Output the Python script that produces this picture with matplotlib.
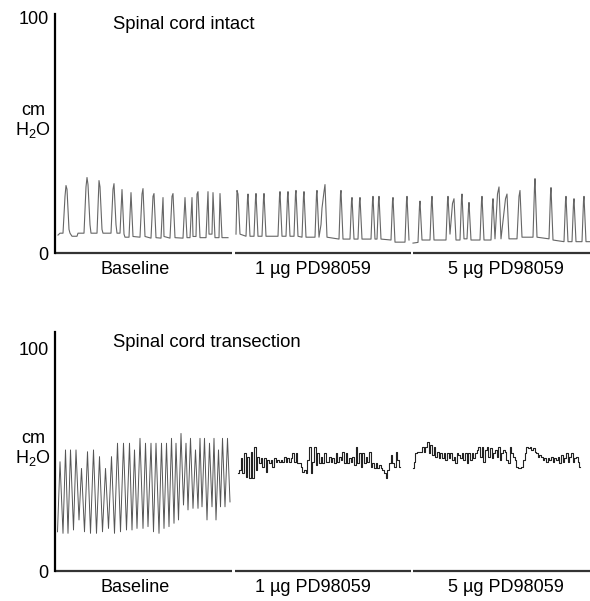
#!/usr/bin/env python3
"""Bladder pressure traces (cm H2O) - spinal cord intact vs transection,
baseline and after 1 / 5 ug PD98059."""
import matplotlib

matplotlib.use("Agg")
import matplotlib.pyplot as plt
import matplotlib.transforms as mtransforms
import numpy as np

plt.rcParams["font.family"] = ["Liberation Sans", "DejaVu Sans"]
plt.rcParams["mathtext.fontset"] = "custom"
plt.rcParams["mathtext.rm"] = "Liberation Sans"

# ---- data (time in arbitrary units from each segment start, pressure in cm H2O)
SEG_LABELS = ["Baseline", "1 µg PD98059", "5 µg PD98059"]

# spinal cord intact
INTACT_BASE_T = [3, 5, 8, 10, 11, 12, 14, 15, 17, 22, 23, 29, 31, 32, 33, 35, 36, 42, 44, 45,
                 47, 48, 56, 58, 59, 61, 62, 65, 67, 69, 70, 74, 76, 78, 85, 87, 88, 90, 96, 98,
                 99, 101, 106, 108, 109, 115, 117, 118, 120, 128, 130, 132, 135, 137, 138, 141, 142, 143, 145, 151,
                 153, 154, 157, 158, 160, 164, 165, 167, 173]
INTACT_BASE_P = [7.6, 8.4, 8.4, 24, 28.6, 27, 10, 8.4, 7.1, 7.1, 8.4, 8.4, 28, 32, 29, 12, 8.4, 8.4, 30.7, 28,
                 10, 8.4, 8.4, 27, 29.4, 12, 8.4, 8.4, 26.9, 8, 6.7, 6.7, 25.6, 7, 6.7, 25, 27.3, 7, 6.3, 24,
                 25.2, 6.5, 6.3, 23.5, 7, 6.3, 24, 25.2, 6.5, 6.3, 23.5, 6.5, 6.5, 23.5, 7, 7, 25, 26, 6.5, 6.5,
                 26, 8, 8, 25.6, 6.5, 6.5, 25.2, 6.5, 6.5]

INTACT_PD1_T = [1, 2, 3, 5, 11, 12.5, 13, 15, 19, 20.5, 21, 23, 27, 28.5, 29, 31, 43, 44.5, 45, 47,
                51, 52.5, 53, 55, 59, 60.5, 61, 63, 67, 68.5, 69, 71, 80, 81.5, 82, 84, 86, 87, 89, 90,
                92, 104, 105.5, 106, 108, 115, 116.5, 117, 119, 123, 124.5, 125, 127, 136, 137.5, 138, 140, 142, 143.5, 144,
                146, 156, 157.5, 158, 160, 170, 171.5, 172, 174]
INTACT_PD1_P = [8, 26.5, 25, 8, 7.1, 23, 25, 7.1, 7.1, 23, 25.2, 7.1, 7.1, 23, 25.2, 7.1, 7.1, 24, 26, 7.1,
                7.1, 24, 26, 7.1, 7.1, 25, 26.5, 7.1, 6.7, 24, 26, 6.7, 6.7, 25, 26.5, 6.7, 12, 19, 26, 29,
                6.7, 5.9, 25, 26.5, 5.9, 5.9, 22, 23.5, 5.9, 5.9, 22, 23.5, 5.9, 5.9, 22, 24, 5.9, 5.9, 22, 24,
                5.9, 5.5, 22, 23.5, 4.6, 4.6, 22, 24, 5.5]

INTACT_PD5_T = [0, 5, 6.5, 7, 9, 17, 18.5, 19, 21, 33, 34.5, 35, 37, 39.5, 41, 43, 47, 48.5, 49, 51,
                54, 55.5, 56, 58, 67, 68.5, 69, 71, 78, 79.5, 80, 82, 84.5, 86, 88, 92.5, 94, 96, 104, 106,
                107, 109, 120, 121.5, 122, 124, 136, 137.5, 138, 140, 151, 152.5, 153, 155, 159, 160.5, 161, 163, 169, 170.5,
                171, 173, 177]
INTACT_PD5_P = [4.2, 4.5, 20, 22, 5.5, 5.5, 22, 24, 5.5, 5.5, 22, 24, 8, 21, 23, 5.5, 5.5, 23, 25, 6,
                6, 19, 21.4, 5.5, 5.5, 22, 24, 5.5, 5.5, 21, 23, 6, 25, 28, 6, 23, 25, 6, 6, 24,
                26.5, 6.7, 6.7, 28, 31.5, 6.7, 6, 25, 27.7, 5.5, 4.8, 22, 24, 4.8, 4.8, 21, 23, 4.8, 4.8, 22,
                24, 4.8, 4.8]

# spinal cord transection
TRANS_BASE_T = [2.5, 5, 8, 10.5, 13, 15.5, 18.5, 21, 24, 26.5, 29.5, 32.5, 35.5, 38.5, 41.5, 44.5, 47.5, 50.5,
                53.5, 56.5, 59.5, 62.5, 65.5, 68.5, 71.5, 74.5, 77, 79.5, 82, 85, 88, 90.5, 93, 96, 98.5,
                101, 104, 106.5, 109, 111.5, 114, 116.5, 119, 121, 123.5, 126, 128.5, 131, 133, 135.5, 138,
                140.5, 143, 145, 147, 149.5, 152, 154.5, 157, 159, 161, 163.5, 165.5, 167.5, 170, 172.5, 175]
TRANS_BASE_P = [17.6, 49, 16.9, 54.3, 16.9, 54.3, 18.4, 54.3, 22.9, 46, 17.6, 53.5, 16.9, 54.3, 16.9, 51.3,
                17.6, 46, 19.1, 51.3, 16.9, 57.3, 17.6, 57.3, 18.4, 57.3, 18.4, 54.3, 19.1, 59.5, 19.1, 57.3,
                19.9, 57.3, 17.6, 57.3, 16.9, 57.3, 19.1, 57.3, 19.9, 59.5, 21.4, 57.3, 22.9, 61.7, 29.6, 57.3,
                27.4, 59.5, 28.1, 54.3, 28.1, 59.5, 28.8, 59.5, 22.9, 57.3, 28.8, 59.5, 22.9, 54.3, 28.8, 59.5,
                28.8, 59.5, 31]

TRANS_PD1_SPAN = (3, 165)
TRANS_PD1_P = [43.8, 45.3, 50.5, 43.8, 52.8, 42.3, 51.3, 41.6, 53.5, 41.6, 55.8, 45.3, 51.3, 48.3, 50.5,
               46.8, 50.5, 44.5, 49.8, 48.3, 49.8, 46.8, 50.5, 49.0, 50, 49.0, 50, 49.0, 51, 49.0,
               50.5, 49.0, 50.5, 52.8, 49.0, 52.8, 48.3, 48.3, 46.8, 44.5, 45.3, 43.8, 49.8, 55.8, 43.8,
               49.0, 55.8, 47.5, 52.8, 48.3, 51.3, 48.3, 52.8, 49.0, 49.0, 51.3, 49.0, 50.5, 48.3, 52.8,
               49.0, 51.3, 49.8, 53.5, 48.3, 52.8, 48.3, 50.5, 49.0, 51.3, 47.5, 55.8, 48.3, 52.8, 46.8,
               52.8, 48.3, 51.3, 49.0, 53.5, 46.8, 48.3, 46.0, 48.3, 46.0, 47.5, 46.0, 45.3, 43.8, 41.6,
               45.3, 48.3, 52.0, 48.3, 46.8, 53.5, 49.8, 46.8]

TRANS_PD5_SPAN = (0, 167)
TRANS_PD5_P = [46.0, 49.0, 52.8, 53.5, 53.5, 53.5, 55.8, 53.5, 55.8, 58.0, 52.8, 56.5, 52.0, 55.8, 51.3,
               53.5, 50.5, 52.8, 50.5, 52.8, 49.8, 52.8, 50.5, 52.8, 49.8, 51.3, 48.3, 52.8, 52.0, 50.5,
               52.8, 49.8, 52.8, 48.3, 52.8, 49.8, 52.8, 50.5, 52.8, 54.3, 55.8, 51.3, 55.8, 49.0, 54.3,
               55.8, 51.3, 55.0, 50.5, 52.8, 54.3, 51.3, 55.8, 49.8, 52.8, 54.3, 53.5, 49.8, 48.3, 55.8,
               52.8, 51.3, 49.8, 46.8, 46.0, 46.0, 46.8, 49.8, 52.8, 55.8, 55.0, 55.8, 54.3, 55.0, 53.5,
               52.8, 51.3, 52.0, 51.3, 49.8, 50.5, 49.0, 50.5, 49.8, 51.3, 49.0, 50.5, 49.8, 51.3, 48.3,
               52.0, 49.0, 50.5, 52.8, 49.0, 51.3, 52.8, 49.0, 50.5, 51.3, 49.0, 46.8]

# ---- layout
SEG_START = [0, 180, 358]
SEG_END = [177, 356, 535]
LABEL_X = [80, 258, 451]
FONT = 13

fig = plt.figure(figsize=(5.90, 6.01), dpi=100)
ax_top = fig.add_axes([55 / 590, 1 - 253 / 601, 535 / 590, 239 / 601])
ax_bot = fig.add_axes([55 / 590, 1 - 571 / 601, 535 / 590, 239 / 601])


def setup_panel(ax, ytop, title, title_y, cm_y, h2o_y):
    ax.set_xlim(0, 535)
    ax.set_ylim(0, ytop)
    for side in ("top", "right", "bottom"):
        ax.spines[side].set_visible(False)
    ax.spines["left"].set_linewidth(1.6)
    ax.set_xticks([])
    ax.set_yticks([0, 100])
    ax.set_yticklabels(["0", "100"])
    ax.tick_params(axis="y", length=0, pad=4.5, labelsize=FONT)
    # broken time axis, one piece per condition
    for x0, x1, lab, lx in zip(SEG_START, SEG_END, SEG_LABELS, LABEL_X):
        ax.plot([x0, x1], [0, 0], color="#333333", lw=1.6, clip_on=False,
                solid_capstyle="butt")
        ax.annotate(lab, xy=(lx, 0), xytext=(0, -16), textcoords="offset pixels",
                    ha="center", va="center", fontsize=FONT)
    ax.text(58, title_y, title, ha="left", va="center", fontsize=13.3)
    trans = mtransforms.blended_transform_factory(ax.transAxes, ax.transData)
    ax.text(-0.041, cm_y, "cm", transform=trans, ha="center", va="center", fontsize=FONT)
    ax.text(-0.041, h2o_y, r"H$_2$O", transform=trans, ha="center", va="center", fontsize=FONT)


setup_panel(ax_top, 101.3, "Spinal cord intact", 97, 60.6, 52.3)
setup_panel(ax_bot, 107.2, "Spinal cord transection", 102.7, 59.6, 50.9)

# intact: smooth voiding contractions
for start, t, p in zip(SEG_START,
                       [INTACT_BASE_T, INTACT_PD1_T, INTACT_PD5_T],
                       [INTACT_BASE_P, INTACT_PD1_P, INTACT_PD5_P]):
    ax_top.plot(np.asarray(t) + start, p, color="#666666", lw=0.8)

# transection: baseline oscillations, then flattened noisy traces
ax_bot.plot(np.asarray(TRANS_BASE_T) + SEG_START[0], TRANS_BASE_P, color="#555555", lw=0.7)
for start, span, p in [(SEG_START[1], TRANS_PD1_SPAN, TRANS_PD1_P),
                       (SEG_START[2], TRANS_PD5_SPAN, TRANS_PD5_P)]:
    t = np.linspace(span[0], span[1], len(p)) + start
    ax_bot.plot(t, p, color="#222222", lw=0.8, drawstyle="steps-mid")

fig.savefig("out.png", dpi=100)
